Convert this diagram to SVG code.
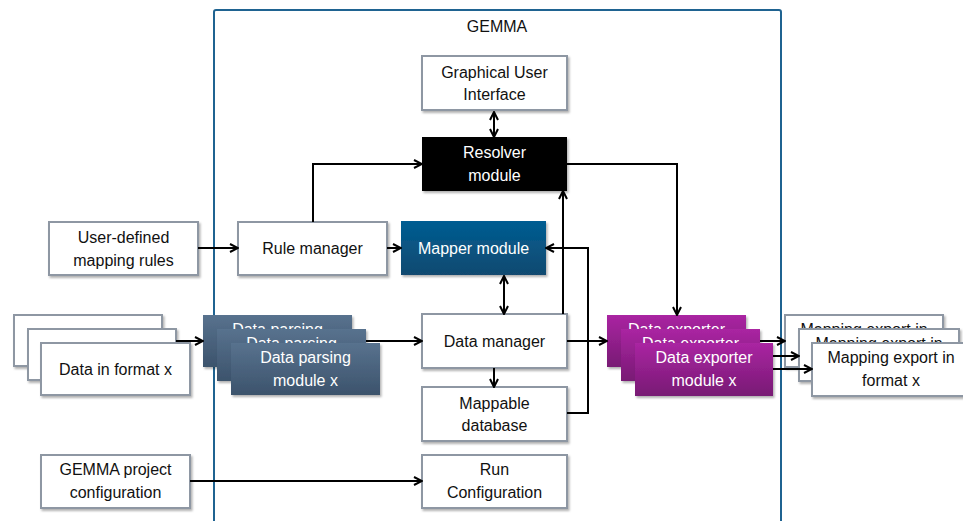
<svg xmlns="http://www.w3.org/2000/svg" width="963" height="521" viewBox="0 0 963 521">
<defs>
<linearGradient id="gMap" x1="0" y1="0" x2="0" y2="1"><stop offset="0" stop-color="#005d92"/><stop offset="1" stop-color="#124a70"/></linearGradient>
<linearGradient id="gPar" x1="0" y1="0" x2="0" y2="1"><stop offset="0" stop-color="#58728e"/><stop offset="1" stop-color="#3c536c"/></linearGradient>
<linearGradient id="gExp" x1="0" y1="0" x2="0" y2="1"><stop offset="0" stop-color="#aa25a2"/><stop offset="1" stop-color="#781a74"/></linearGradient>
<filter id="sh" x="-10%" y="-10%" width="125%" height="130%"><feDropShadow dx="1.5" dy="2" stdDeviation="1.2" flood-color="#000" flood-opacity="0.3"/></filter>
<clipPath id="c1"><rect x="0" y="0" width="963" height="329"/></clipPath>
<clipPath id="c2"><rect x="0" y="0" width="963" height="343"/></clipPath>
<marker id="ah" viewBox="0 0 10 10" refX="9" refY="5" markerWidth="10" markerHeight="10" markerUnits="userSpaceOnUse" orient="auto-start-reverse"><path d="M1,1 L9,5 L1,9" fill="none" stroke="#000" stroke-width="2"/></marker>
<style>
.w{fill:#fff;stroke:#8e97a3;stroke-width:2;filter:url(#sh)}
.t{font-family:"Liberation Sans",Arial,sans-serif;font-size:16px;fill:#111;text-anchor:middle}
.tw{font-family:"Liberation Sans",Arial,sans-serif;font-size:16px;fill:#fff;text-anchor:middle}
.c{fill:none;stroke:#000;stroke-width:2}
.a{marker-end:url(#ah)}
</style>
</defs>
<rect width="963" height="521" fill="#fff"/>
<g id="gemma">
<rect x="214" y="10" width="567" height="530" rx="2" fill="none" stroke="#1f6391" stroke-width="2"/>
<text class="t" x="497" y="32">GEMMA</text>
</g>
<g id="gui"><rect class="w" x="422" y="56" width="145" height="54"/><text class="t" x="494.5" y="78">Graphical User</text><text class="t" x="494.5" y="100">Interface</text></g>
<g id="resolver"><rect x="422" y="137" width="145" height="54" fill="#000" filter="url(#sh)"/><text class="tw" x="494.5" y="158">Resolver</text><text class="tw" x="494.5" y="181">module</text></g>
<g id="mapper"><rect x="401" y="221" width="145" height="54" fill="url(#gMap)" filter="url(#sh)"/><text class="tw" x="473.5" y="254">Mapper module</text></g>
<g id="rule-manager"><rect class="w" x="238" y="222" width="149" height="53"/><text class="t" x="312.5" y="254">Rule manager</text></g>
<g id="user-rules"><rect class="w" x="49" y="222" width="149" height="53"/><text class="t" x="123.5" y="243">User-defined</text><text class="t" x="123.5" y="266">mapping rules</text></g>
<g id="data-manager"><rect class="w" x="422" y="314" width="145" height="54"/><text class="t" x="494.5" y="347">Data manager</text></g>
<g id="mappable-db"><rect class="w" x="422" y="387" width="145" height="54"/><text class="t" x="494.5" y="409">Mappable</text><text class="t" x="494.5" y="431">database</text></g>
<g id="run-config"><rect class="w" x="422" y="455" width="145" height="53"/><text class="t" x="494.5" y="475">Run</text><text class="t" x="494.5" y="498">Configuration</text></g>
<g id="project-config"><rect class="w" x="41" y="455" width="149" height="53"/><text class="t" x="115.5" y="475">GEMMA project</text><text class="t" x="115.5" y="498">configuration</text></g>
<g id="data-in">
<rect class="w" x="14" y="315" width="148" height="51"/>
<rect class="w" x="28" y="329" width="148" height="51"/>
<rect class="w" x="41" y="343" width="149" height="52"/>
<text class="t" x="115.5" y="375">Data in format x</text>
</g>
<g id="parsing">
<rect x="203" y="315" width="149" height="52" fill="url(#gPar)" filter="url(#sh)"/><text class="tw" x="277.5" y="335" clip-path="url(#c1)">Data parsing</text>
<rect x="217" y="329" width="149" height="52" fill="url(#gPar)" filter="url(#sh)"/><text class="tw" x="291.5" y="349" clip-path="url(#c2)">Data parsing</text>
<rect x="231" y="343" width="149" height="52" fill="url(#gPar)" filter="url(#sh)"/><text class="tw" x="305.5" y="363">Data parsing</text><text class="tw" x="305.5" y="386">module x</text>
</g>
<g id="exporter">
<rect x="607" y="315" width="139" height="52" fill="url(#gExp)" filter="url(#sh)"/><text class="tw" x="676.5" y="335" clip-path="url(#c1)">Data exporter</text>
<rect x="621" y="329" width="139" height="52" fill="url(#gExp)" filter="url(#sh)"/><text class="tw" x="690.5" y="349" clip-path="url(#c2)">Data exporter</text>
<rect x="635" y="343" width="138" height="53" fill="url(#gExp)" filter="url(#sh)"/><text class="tw" x="704" y="363">Data exporter</text><text class="tw" x="704" y="386">module x</text>
</g>
<g id="mapping-export">
<rect class="w" x="785" y="315" width="158" height="52"/><text class="t" x="864" y="335" clip-path="url(#c1)">Mapping export in</text>
<rect class="w" x="799" y="329" width="160" height="52"/><text class="t" x="879" y="349" clip-path="url(#c2)">Mapping export in</text>
<rect class="w" x="812" y="343" width="158" height="53"/><text class="t" x="891" y="363">Mapping export in</text><text class="t" x="891" y="386">format x</text>
</g>
<g id="connectors">
<line class="c a" x1="198" y1="248" x2="238" y2="248"/>
<line class="c a" x1="387" y1="248" x2="401" y2="248"/>
<polyline class="c a" points="313,222 313,164 422,164"/>
<line class="c a" x1="494" y1="112" x2="494" y2="137" style="marker-start:url(#ah)"/>
<polyline class="c a" points="567,164 677,164 677,315"/>
<line class="c a" x1="504" y1="276" x2="504" y2="314" style="marker-start:url(#ah)"/>
<line class="c a" x1="563" y1="314" x2="563" y2="191"/>
<polyline class="c a" points="567,413 588,413 588,248 546,248"/>
<line class="c a" x1="567" y1="341" x2="607" y2="341"/>
<line class="c a" x1="494" y1="368" x2="494" y2="387"/>
<line class="c a" x1="366" y1="341" x2="422" y2="341"/>
<line class="c a" x1="176" y1="341" x2="203" y2="341"/>
<line class="c a" x1="190" y1="481" x2="422" y2="481"/>
<line class="c a" x1="760" y1="341" x2="785" y2="341"/>
<line class="c a" x1="773" y1="356" x2="799" y2="356"/>
<line class="c a" x1="773" y1="369" x2="812" y2="369"/>
</g>
</svg>
